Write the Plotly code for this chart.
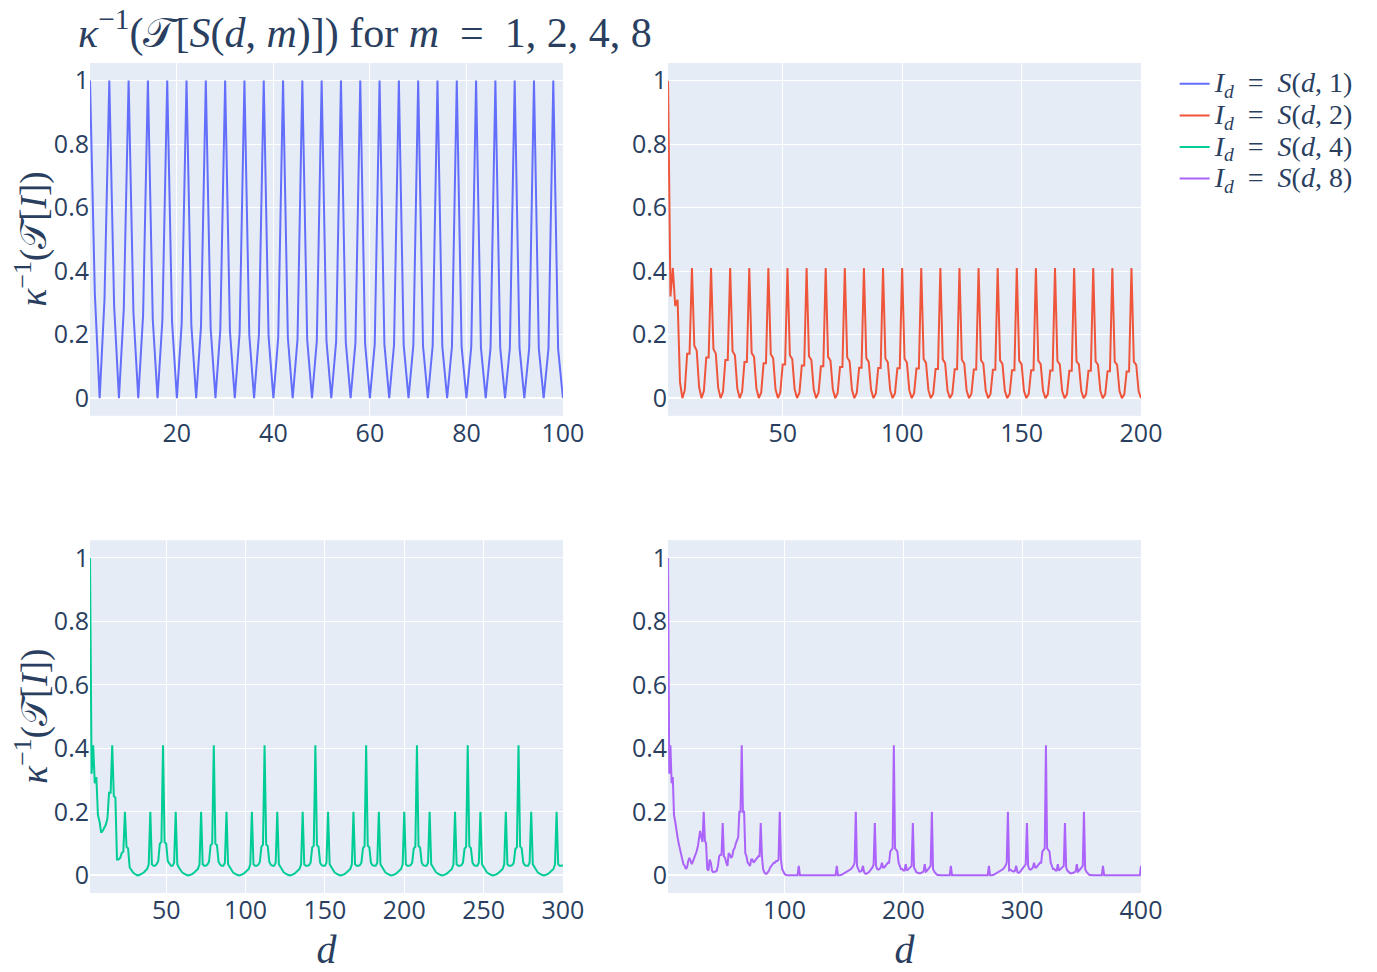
import plotly.graph_objects as go
from plotly.subplots import make_subplots

# ---------------- data ----------------
d1_start, d2_start, d3_start, d4_start = 2, 2, 2, 2

s1 = [
    1, 0.33, 0, 0.31, 1, 0.29, 0, 0.28, 1, 0.27, 0, 0.26, 1, 0.25, 0, 0.245,
    1, 0.24, 0, 0.235, 1, 0.23, 0, 0.225, 1, 0.22, 0, 0.215, 1, 0.21, 0, 0.205,
    1, 0.2, 0, 0.2, 1, 0.195, 0, 0.19, 1, 0.19, 0, 0.185, 1, 0.185, 0, 0.18,
    1, 0.18, 0, 0.178, 1, 0.176, 0, 0.174, 1, 0.172, 0, 0.17, 1, 0.17, 0, 0.168,
    1, 0.167, 0, 0.166, 1, 0.165, 0, 0.164, 1, 0.163, 0, 0.162, 1, 0.162, 0, 0.161,
    1, 0.16, 0, 0.16, 1, 0.159, 0, 0.158, 1, 0.158, 0, 0.157, 1, 0.156, 0, 0.156,
    1, 0.155, 0,
]

s2 = [
    1, 0.32, 0.41, 0.29, 0.31, 0.05, 0,
    0.025, 0.14, 0.14, 0.41, 0.165, 0.15, 0.035, 0,
    0.022, 0.128, 0.128, 0.41, 0.155, 0.14, 0.032, 0,
    0.02, 0.12, 0.12, 0.41, 0.148, 0.135, 0.03, 0,
    0.02, 0.114, 0.114, 0.41, 0.142, 0.13, 0.03, 0,
    0.018, 0.11, 0.11, 0.41, 0.138, 0.126, 0.028, 0,
    0.018, 0.106, 0.106, 0.41, 0.135, 0.123, 0.028, 0,
    0.017, 0.103, 0.103, 0.41, 0.132, 0.12, 0.027, 0,
    0.017, 0.1, 0.1, 0.41, 0.13, 0.118, 0.027, 0,
    0.016, 0.098, 0.098, 0.41, 0.128, 0.116, 0.026, 0,
    0.016, 0.096, 0.096, 0.41, 0.126, 0.114, 0.026, 0,
    0.015, 0.095, 0.095, 0.41, 0.125, 0.113, 0.025, 0,
    0.015, 0.094, 0.094, 0.41, 0.124, 0.112, 0.025, 0,
    0.015, 0.093, 0.093, 0.41, 0.123, 0.111, 0.025, 0,
    0.014, 0.092, 0.092, 0.41, 0.122, 0.11, 0.024, 0,
    0.014, 0.091, 0.091, 0.41, 0.121, 0.109, 0.024, 0,
    0.014, 0.09, 0.09, 0.41, 0.12, 0.108, 0.024, 0,
    0.013, 0.089, 0.089, 0.41, 0.119, 0.108, 0.023, 0,
    0.013, 0.088, 0.088, 0.41, 0.118, 0.107, 0.023, 0,
    0.013, 0.088, 0.088, 0.41, 0.118, 0.107, 0.023, 0,
    0.012, 0.087, 0.087, 0.41, 0.117, 0.106, 0.022, 0,
    0.012, 0.086, 0.086, 0.41, 0.116, 0.106, 0.022, 0,
    0.012, 0.086, 0.086, 0.41, 0.116, 0.105, 0.022, 0,
    0.012, 0.085, 0.085, 0.41, 0.115, 0.105, 0.022, 0,
    0.012, 0.084, 0.084, 0.41, 0.115, 0.105, 0.022, 0,
]

s3 = [
    1, 0.32, 0.41, 0.29, 0.31, 0.19, 0.17, 0.135, 0.14, 0.15, 0.16, 0.18, 0.26, 0.26, 0.41,
    0.25, 0.245, 0.05, 0.05, 0.055, 0.07, 0.075, 0.2, 0.09, 0.085, 0.025, 0.015, 0.01,
    0.005, 0.002, 0,
    # d = 33 .. 64
    0.001, 0.003, 0.006, 0.01, 0.015, 0.02, 0.035, 0.2, 0.035, 0.03, 0.03, 0.035, 0.045,
    0.1, 0.105, 0.41, 0.105, 0.1, 0.045, 0.035, 0.03, 0.03, 0.04, 0.2, 0.035, 0.025,
    0.015, 0.01, 0.006, 0.003, 0.001, 0,
    # d = 65 .. 96
    0.001, 0.003, 0.006, 0.01, 0.015, 0.02, 0.035, 0.2, 0.035, 0.03, 0.03, 0.034, 0.043,
    0.095, 0.1, 0.41, 0.1, 0.095, 0.043, 0.034, 0.03, 0.03, 0.04, 0.2, 0.035, 0.025,
    0.015, 0.01, 0.006, 0.003, 0.001, 0,
    # d = 97 .. 128
    0.001, 0.003, 0.006, 0.01, 0.015, 0.02, 0.035, 0.2, 0.035, 0.03, 0.03, 0.033, 0.042,
    0.09, 0.097, 0.41, 0.097, 0.092, 0.042, 0.033, 0.03, 0.03, 0.04, 0.2, 0.035, 0.025,
    0.015, 0.01, 0.006, 0.003, 0.001, 0,
    # d = 129 .. 160
    0.001, 0.003, 0.006, 0.01, 0.015, 0.02, 0.035, 0.2, 0.035, 0.03, 0.03, 0.032, 0.04,
    0.088, 0.094, 0.41, 0.095, 0.09, 0.04, 0.032, 0.03, 0.03, 0.04, 0.2, 0.035, 0.025,
    0.015, 0.01, 0.006, 0.003, 0.001, 0,
    # d = 161 .. 192
    0.001, 0.003, 0.006, 0.01, 0.015, 0.02, 0.035, 0.2, 0.035, 0.03, 0.03, 0.032, 0.04,
    0.086, 0.092, 0.41, 0.094, 0.088, 0.04, 0.032, 0.03, 0.03, 0.04, 0.2, 0.035, 0.025,
    0.015, 0.01, 0.006, 0.003, 0.001, 0,
    # d = 193 .. 224
    0.001, 0.003, 0.006, 0.01, 0.015, 0.02, 0.035, 0.2, 0.035, 0.03, 0.03, 0.032, 0.04,
    0.085, 0.09, 0.41, 0.093, 0.087, 0.04, 0.032, 0.03, 0.03, 0.04, 0.2, 0.035, 0.025,
    0.015, 0.01, 0.006, 0.003, 0.001, 0,
    # d = 225 .. 256
    0.001, 0.003, 0.006, 0.01, 0.015, 0.02, 0.035, 0.2, 0.035, 0.03, 0.03, 0.032, 0.04,
    0.084, 0.09, 0.41, 0.092, 0.086, 0.04, 0.032, 0.03, 0.03, 0.04, 0.2, 0.035, 0.025,
    0.015, 0.01, 0.006, 0.003, 0.001, 0,
    # d = 257 .. 288
    0.001, 0.003, 0.006, 0.01, 0.015, 0.02, 0.035, 0.2, 0.035, 0.03, 0.03, 0.032, 0.04,
    0.083, 0.089, 0.41, 0.091, 0.085, 0.04, 0.032, 0.03, 0.03, 0.04, 0.2, 0.035, 0.025,
    0.015, 0.01, 0.006, 0.003, 0.001, 0,
    # d = 289 .. 300
    0.001, 0.003, 0.006, 0.01, 0.015, 0.02, 0.035, 0.2, 0.035, 0.03, 0.03, 0.032,
]

s4 = [
    # d = 2 .. 128
    1, 0.32, 0.41, 0.29, 0.31, 0.19, 0.17, 0.14, 0.12, 0.1, 0.08, 0.065, 0.05, 0.035,
    0.03, 0.02, 0.025, 0.045, 0.055, 0.045, 0.035, 0.045, 0.055, 0.06, 0.075, 0.09,
    0.11, 0.14, 0.12, 0.105, 0.2, 0.11, 0.1, 0.02, 0.015, 0.05, 0.04, 0.015, 0.01,
    0.01, 0.012, 0.015, 0.03, 0.06, 0.065, 0.065, 0.165, 0.06, 0.055, 0.04, 0.03,
    0.07, 0.065, 0.055, 0.06, 0.08, 0.085, 0.1, 0.11, 0.12, 0.2, 0.2, 0.41, 0.2, 0.2,
    0.07, 0.06, 0.04, 0.035, 0.03, 0.05, 0.05, 0.04, 0.045, 0.05, 0.055, 0.06, 0.06,
    0.165, 0.06, 0.02, 0.01, 0.005, 0.005, 0.01, 0.015, 0.025, 0.03, 0.035, 0.04,
    0.04, 0.045, 0.045, 0.05, 0.2, 0.05, 0.02, 0.01, 0.005, 0.002,
    0, 0, 0, 0, 0, 0, 0, 0, 0, 0, 0.03,
    0, 0, 0, 0, 0, 0, 0, 0, 0, 0, 0, 0, 0, 0, 0, 0,
    # d = 129 .. 256
    0, 0, 0, 0, 0, 0, 0, 0, 0, 0, 0, 0, 0, 0, 0, 0.03,
    0, 0, 0, 0.002, 0.004, 0.006, 0.008, 0.01, 0.012, 0.015, 0.018, 0.02, 0.025, 0.03,
    0.04, 0.2, 0.03, 0.02, 0.012, 0.012, 0.015, 0.03, 0.01, 0.005, 0.005, 0.008, 0.01,
    0.015, 0.02, 0.025, 0.035, 0.165, 0.03, 0.02, 0.018, 0.02, 0.025, 0.04, 0.025,
    0.025, 0.03, 0.035, 0.04, 0.04, 0.075, 0.08, 0.085, 0.41, 0.085, 0.08, 0.075,
    0.04, 0.03, 0.02, 0.02, 0.015, 0.015, 0.035, 0.015, 0.018, 0.022, 0.026, 0.03,
    0.165, 0.025, 0.015, 0.01, 0.008, 0.006, 0.006, 0.008, 0.01, 0.012, 0.035, 0.012,
    0.015, 0.02, 0.026, 0.03, 0.2, 0.02, 0.012, 0.006, 0.003, 0.001,
    0, 0, 0, 0, 0, 0, 0, 0, 0, 0, 0.03,
    0, 0, 0, 0, 0, 0, 0, 0, 0, 0, 0, 0, 0, 0, 0, 0,
    # d = 257 .. 384
    0, 0, 0, 0, 0, 0, 0, 0, 0, 0, 0, 0, 0, 0, 0, 0.03,
    0, 0, 0, 0.002, 0.004, 0.006, 0.008, 0.01, 0.012, 0.015, 0.018, 0.02, 0.025, 0.03,
    0.04, 0.2, 0.016, 0.018, 0.015, 0.012, 0.012, 0.015, 0.03, 0.01, 0.008, 0.01,
    0.015, 0.02, 0.025, 0.03, 0.035, 0.165, 0.03, 0.02, 0.018, 0.02, 0.025, 0.04,
    0.025, 0.025, 0.03, 0.035, 0.04, 0.04, 0.075, 0.08, 0.085, 0.41, 0.085, 0.08,
    0.075, 0.04, 0.03, 0.02, 0.02, 0.015, 0.015, 0.035, 0.015, 0.018, 0.022, 0.026,
    0.03, 0.165, 0.025, 0.015, 0.01, 0.008, 0.006, 0.006, 0.008, 0.01, 0.012, 0.035,
    0.012, 0.015, 0.02, 0.026, 0.03, 0.2, 0.02, 0.012, 0.006, 0.003, 0.001,
    0, 0, 0, 0, 0, 0, 0, 0, 0, 0, 0.03,
    0, 0, 0, 0, 0, 0, 0, 0, 0, 0, 0, 0, 0, 0, 0, 0,
    # d = 385 .. 400
    0, 0, 0, 0, 0, 0, 0, 0, 0, 0, 0, 0, 0, 0, 0, 0.03,
]

assert len(s1) == 99, len(s1)
assert len(s2) == 199, len(s2)
assert len(s3) == 299, len(s3)
assert len(s4) == 399, len(s4)

m_values = [1, 2, 4, 8]
colors = ["#636efa", "#EF553B", "#00cc96", "#ab63fa"]
positions = [(1, 1), (1, 2), (2, 1), (2, 2)]
all_series = [s1, s2, s3, s4]
starts = [d1_start, d2_start, d3_start, d4_start]

MATH = "Liberation Serif"
NB = "\u00a0"

fig = make_subplots(rows=2, cols=2)
for vals, start, m, color, (r, c) in zip(all_series, starts, m_values, colors, positions):
    name = (f'<span style="font-size:28px"><i>I</i><sub><i>d</i></sub>{NB}{NB}={NB}{NB}'
            f'<i>S</i>(<i>d</i>,{NB}{m})</span>')
    fig.add_trace(
        go.Scatter(x=list(range(start, start + len(vals))), y=vals, mode="lines",
                   name=name, line=dict(color=color, width=2)),
        row=r, col=c,
    )

# y-axis titles (placed as annotations so they sit close to the tick labels)
ytitle = "<i>κ</i><sup>−1</sup>(𝒯[<i>I</i>])"
for ycen in (0.7875, 0.2125):
    fig.add_annotation(
        text=ytitle, xref="paper", yref="paper",
        x=(32 - 90) / 1051, y=ycen, xanchor="center", yanchor="middle",
        textangle=-90, showarrow=False,
        font=dict(family=MATH, size=37, color="#2a3f5f"),
    )

for col in (1, 2):
    fig.update_xaxes(title_text="<i>d</i>", title_font=dict(family=MATH, size=40),
                     title_standoff=22, row=2, col=col)
fig.update_xaxes(tickfont=dict(size=25), automargin=False)
fig.update_yaxes(tickfont=dict(size=25), automargin=False)

title_txt = (f"<i>κ</i><sup>−1</sup>(𝒯[<i>S</i>(<i>d</i>,{NB}<i>m</i>)]){NB}for{NB}<i>m</i>"
             f"{NB}{NB}={NB}{NB}1,{NB}2,{NB}4,{NB}8")

fig.update_layout(
    width=1377, height=972,
    template="plotly",
    margin=dict(l=90, r=236, t=63, b=79, autoexpand=False),
    title=dict(
        text=title_txt,
        font=dict(family=MATH, size=42, color="#2a3f5f"),
        x=78 / 1377, xanchor="left", xref="container",
        y=1 - 32 / 972, yanchor="middle", yref="container",
    ),
    legend=dict(font=dict(family=MATH, size=22), x=1.032, y=1.0, tracegroupgap=0),
    font=dict(size=25),
)

fig.write_html("out.html")
